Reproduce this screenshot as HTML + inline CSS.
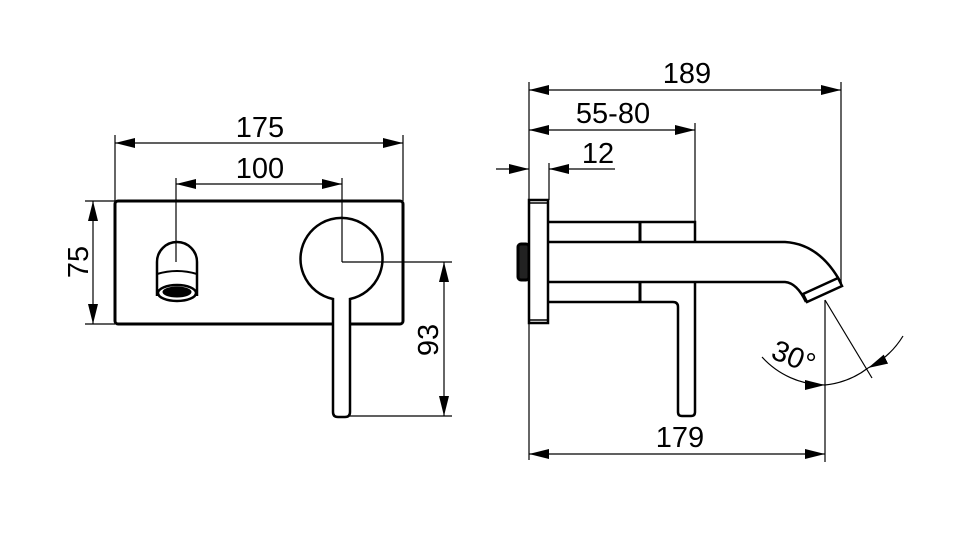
<!DOCTYPE html>
<html><head><meta charset="utf-8"><style>
html,body{margin:0;padding:0;background:#fff}
svg{display:block}
text{font-family:"Liberation Sans",Arial,sans-serif;font-size:29px;fill:#000}
</style></head><body>
<svg width="960" height="540" viewBox="0 0 960 540" xmlns="http://www.w3.org/2000/svg">
<defs>
<marker id="a" markerWidth="20" markerHeight="10" refX="20" refY="5" orient="auto" markerUnits="userSpaceOnUse">
<path d="M0,0 L20,5 L0,10 Z" fill="#000"/></marker>
<marker id="b" markerWidth="20" markerHeight="10" refX="0" refY="5" orient="auto" markerUnits="userSpaceOnUse">
<path d="M20,0 L0,5 L20,10 Z" fill="#000"/></marker>
</defs>
<g stroke="#000" fill="none">
<!-- LEFT VIEW -->
<rect x="115" y="201" width="288" height="123" rx="3" stroke-width="3"/>
<!-- spout front -->
<path d="M157,296 L157,262 A20,20 0 0 1 197,262 L197,296" stroke-width="2.5" fill="#fff"/>
<path d="M157,274 Q177,268 197,274" stroke-width="2"/>
<ellipse cx="177" cy="293" rx="19" ry="8" stroke-width="2.5" fill="#fff"/>
<ellipse cx="177" cy="292" rx="14" ry="5" fill="#000"/>
<!-- handle -->
<path d="M333,299 A41,41 0 1 1 350,299 L350,412 Q350,417 345,417 L338,417 Q333,417 333,412 Z" stroke-width="2.5" fill="#fff"/>
<!-- dims left -->
<g stroke-width="1.2">
<line x1="115" y1="135" x2="115" y2="201"/>
<line x1="403" y1="135" x2="403" y2="201"/>
<line x1="115" y1="143" x2="403" y2="143" marker-start="url(#b)" marker-end="url(#a)"/>
<line x1="176" y1="178" x2="176" y2="262"/>
<line x1="342" y1="178" x2="342" y2="262"/>
<line x1="342" y1="262" x2="452" y2="262"/>
<line x1="176" y1="184" x2="342" y2="184" marker-start="url(#b)" marker-end="url(#a)"/>
<line x1="85" y1="201" x2="115" y2="201"/>
<line x1="85" y1="324" x2="115" y2="324"/>
<line x1="93" y1="201" x2="93" y2="324" marker-start="url(#b)" marker-end="url(#a)"/>
<line x1="350" y1="416" x2="452" y2="416"/>
<line x1="444" y1="262" x2="444" y2="416" marker-start="url(#b)" marker-end="url(#a)"/>
</g>
<!-- RIGHT VIEW -->
<rect x="518" y="244" width="11" height="36" rx="3" stroke-width="3" fill="#222"/>
<rect x="529" y="200" width="19" height="123" stroke-width="2.5" fill="#fff"/>
<line x1="529" y1="203" x2="548" y2="203" stroke-width="1.5"/>
<line x1="529" y1="320" x2="548" y2="320" stroke-width="1.5"/>
<path d="M548,222 L695,222 L695,242" stroke-width="2.5"/>
<path d="M548,242 L785,242 Q820,244 841,283" stroke-width="2.5"/>
<path d="M548,282 L785,282 Q797,283 806,302" stroke-width="2.5"/>
<path d="M548,302 L673,302 Q678,302 678,307 L678,412 Q678,416 682,416 L691,416 Q695,416 695,412 L695,282" stroke-width="2.5"/>
<line x1="640" y1="222" x2="640" y2="242" stroke-width="3"/>
<line x1="640" y1="282" x2="640" y2="302" stroke-width="3"/>
<path d="M803,294 L838,278 L842,286 L807,302 Z" stroke-width="2.5" fill="#fff"/>
<!-- dims right -->
<g stroke-width="1.2">
<line x1="529" y1="82" x2="529" y2="200"/>
<line x1="529" y1="323" x2="529" y2="460"/>
<line x1="549" y1="163" x2="549" y2="200"/>
<line x1="841" y1="82" x2="841" y2="283"/>
<line x1="695" y1="123" x2="695" y2="222"/>
<line x1="825" y1="300" x2="825" y2="462"/>
<line x1="529" y1="90" x2="841" y2="90" marker-start="url(#b)" marker-end="url(#a)"/>
<line x1="529" y1="130" x2="695" y2="130" marker-start="url(#b)" marker-end="url(#a)"/>
<line x1="496" y1="169" x2="529" y2="169" marker-end="url(#a)"/>
<line x1="549" y1="169" x2="615" y2="169" marker-start="url(#b)"/>
<line x1="529" y1="454" x2="825" y2="454" marker-start="url(#b)" marker-end="url(#a)"/>
<line x1="825" y1="300" x2="872" y2="378"/>
<path d="M762,357 A85,85 0 0 0 825,385" marker-end="url(#a)"/>
<path d="M903,336 A85,85 0 0 1 868,368" marker-end="url(#a)"/>
<path d="M868,368 A85,85 0 0 1 825,385"/>
</g>
</g>
<text x="260" y="137" text-anchor="middle">175</text>
<text x="260" y="178" text-anchor="middle">100</text>
<text transform="translate(88,262) rotate(-90)" text-anchor="middle">75</text>
<text transform="translate(438,340) rotate(-90)" text-anchor="middle">93</text>
<text x="687" y="83" text-anchor="middle">189</text>
<text x="613" y="123" text-anchor="middle">55-80</text>
<text x="598" y="163" text-anchor="middle">12</text>
<text x="680" y="447" text-anchor="middle">179</text>
<text transform="translate(790,366) rotate(22)" text-anchor="middle">30°</text>
</svg>
</body></html>
